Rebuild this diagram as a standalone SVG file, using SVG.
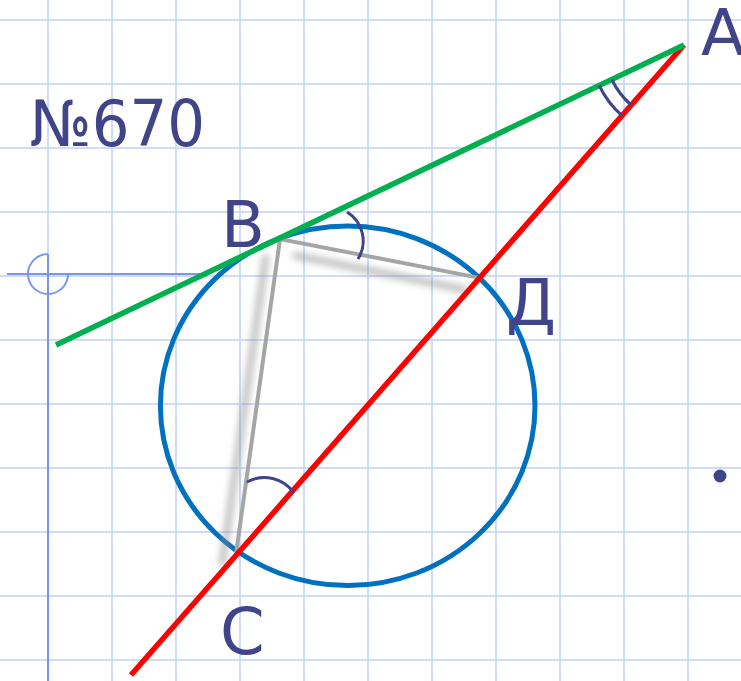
<svg xmlns="http://www.w3.org/2000/svg" width="741" height="681" viewBox="0 0 741 681">
<defs>
<style>
.grid line{stroke:#cfdbf8;stroke-width:2}
.axis{stroke:#7a95f0;stroke-width:2;fill:none}
.lbl{font-family:"DejaVu Sans","Verdana",sans-serif;font-size:64px;fill:#404489}
.ang{fill:none;stroke:#404489;stroke-width:3}
.chord{stroke:#a5a5a5;stroke-width:4;fill:none;stroke-linecap:square}
.shadow{stroke:#8a8a8a;stroke-width:7;fill:none;opacity:0.55;filter:url(#blur)}
</style>
<filter id="blur" x="-50%" y="-50%" width="200%" height="200%"><feGaussianBlur stdDeviation="3.5"/></filter>
</defs>
<rect width="741" height="681" fill="#ffffff"/>
<g class="grid">
<line x1="48" y1="0" x2="48" y2="681"/><line x1="112" y1="0" x2="112" y2="681"/><line x1="176" y1="0" x2="176" y2="681"/><line x1="240" y1="0" x2="240" y2="681"/><line x1="304" y1="0" x2="304" y2="681"/><line x1="368" y1="0" x2="368" y2="681"/><line x1="432" y1="0" x2="432" y2="681"/><line x1="496" y1="0" x2="496" y2="681"/><line x1="560" y1="0" x2="560" y2="681"/><line x1="624" y1="0" x2="624" y2="681"/><line x1="688" y1="0" x2="688" y2="681"/>
<line x1="0" y1="20" x2="741" y2="20"/><line x1="0" y1="84" x2="741" y2="84"/><line x1="0" y1="148" x2="741" y2="148"/><line x1="0" y1="212" x2="741" y2="212"/><line x1="0" y1="276" x2="741" y2="276"/><line x1="0" y1="340" x2="741" y2="340"/><line x1="0" y1="404" x2="741" y2="404"/><line x1="0" y1="468" x2="741" y2="468"/><line x1="0" y1="532" x2="741" y2="532"/><line x1="0" y1="596" x2="741" y2="596"/><line x1="0" y1="660" x2="741" y2="660"/>
</g>
<g id="axis">
<line class="axis" x1="48" y1="254" x2="48" y2="681"/>
<line class="axis" x1="7" y1="274" x2="200" y2="274"/>
<path class="axis" d="M48,254 A20,20 0 1 0 68,274"/>
</g>
<g id="title"><text class="lbl" x="30" y="146" textLength="175" lengthAdjust="spacingAndGlyphs">№670</text></g>
<g id="circle"><ellipse cx="347.7" cy="405.8" rx="187.3" ry="179.8" fill="none" stroke="#0070c0" stroke-width="5"/></g>
<g id="connectors">
<path class="shadow" d="M293,255 L467,290"/>
<path class="shadow" d="M266,255 L222,566"/>
<path class="chord" d="M236,554 L280,239 L480,278"/>
<line x1="684" y1="45" x2="131" y2="675" stroke="#ff0000" stroke-width="5.5"/>
<line x1="684" y1="45" x2="56" y2="345" stroke="#00b050" stroke-width="5.5"/>
</g>
<g id="angles">
<path class="ang" d="M599.2,85.5 A94,94 0 0 0 622,115.6"/>
<path class="ang" d="M611.8,79.5 A80,80 0 0 0 631.2,105.1"/>
<path class="ang" d="M347,212 A34,34 0 0 1 358,259"/>
<path class="ang" d="M247,482 A36,36 0 0 1 294,493"/>
</g>
<g id="A"><text class="lbl" x="701" y="55">A</text></g>
<g id="B"><text class="lbl" x="221" y="247">B</text></g>
<g id="D"><text class="lbl" x="506" y="325">Д</text></g>
<g id="C"><text class="lbl" x="220" y="654">C</text></g>
<g id="dot"><circle cx="720" cy="476" r="6.5" fill="#404489"/></g>
</svg>
